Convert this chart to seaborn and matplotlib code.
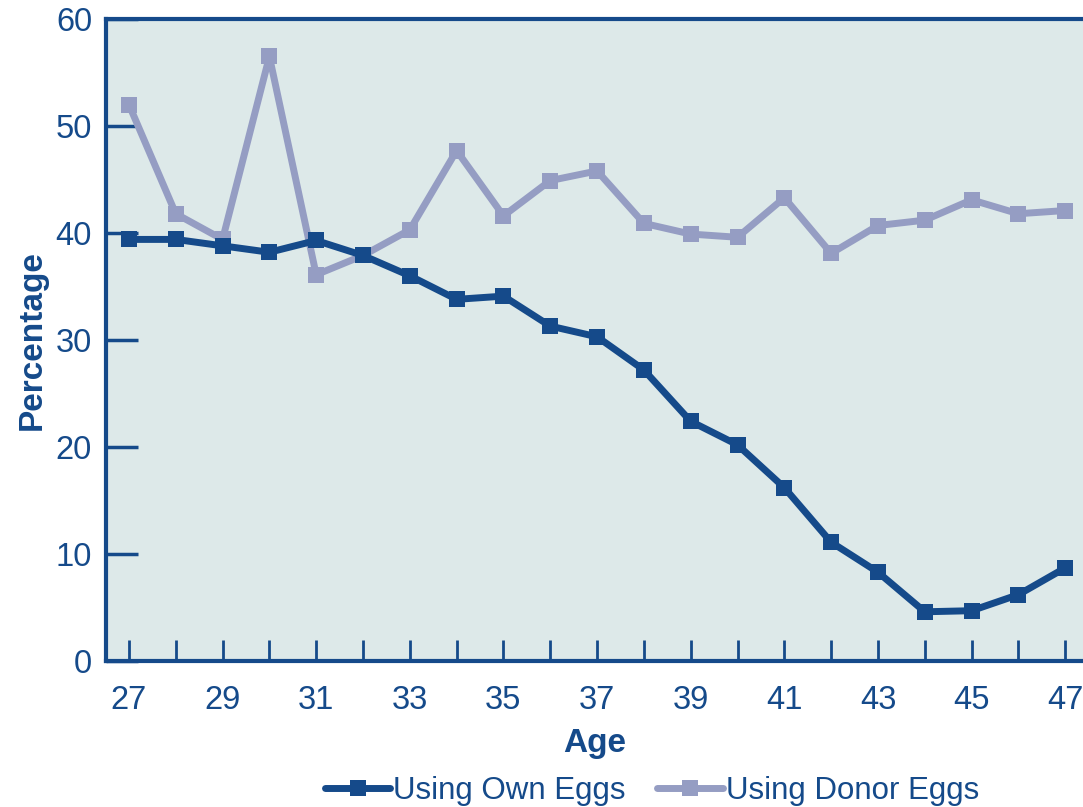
import pandas as pd
import seaborn as sns
import matplotlib
matplotlib.use("Agg")
import matplotlib.pyplot as plt

ages = list(range(27, 48))
own_eggs = [39.4, 39.4, 38.8, 38.2, 39.3, 37.9, 36.0, 33.8, 34.1, 31.3, 30.3,
            27.2, 22.4, 20.2, 16.2, 11.1, 8.3, 4.6, 4.7, 6.2, 8.7]
donor_eggs = [52.0, 41.8, 39.4, 56.5, 36.1, 37.9, 40.3, 47.7, 41.6, 44.9, 45.8,
              40.9, 39.9, 39.6, 43.3, 38.1, 40.7, 41.2, 43.1, 41.8, 42.1]
series_names = ["Using Own Eggs", "Using Donor Eggs"]
y_ticks = [0, 10, 20, 30, 40, 50, 60]
x_label_ticks = list(range(27, 48, 2))

dark_blue = "#154a8a"
light_blue = "#959dc3"
bg = "#dde9e9"

df = pd.DataFrame({
    "Age": ages * 2,
    "Percentage": own_eggs + donor_eggs,
    "Series": [series_names[0]] * len(ages) + [series_names[1]] * len(ages),
})

sns.set_style("white")
plt.rcParams["font.family"] = ["Liberation Sans", "DejaVu Sans"]

fig = plt.figure(figsize=(10.83, 8.07), dpi=100)
ax = fig.add_axes([106 / 1083, 146 / 807, 977 / 1083, 642 / 807])
ax.set_facecolor(bg)

# donor series first so the own-eggs line sits on top
palette = {series_names[0]: dark_blue, series_names[1]: light_blue}
sns.lineplot(data=df, x="Age", y="Percentage", hue="Series", style="Series",
             markers={n: "s" for n in series_names}, dashes=False, palette=palette,
             hue_order=series_names[::-1], style_order=series_names[::-1],
             linewidth=5, markersize=11, markeredgewidth=0, ax=ax, legend=False)

ax.set_xlim(26.51, 47.38)
ax.set_ylim(0, 60)
ax.set_xticks(ages)
ax.set_xticklabels([str(a) if a in x_label_ticks else "" for a in ages])
ax.set_yticks(y_ticks)

for side in ["left", "top", "bottom"]:
    ax.spines[side].set_color(dark_blue)
    ax.spines[side].set_linewidth(3)
ax.spines["right"].set_visible(False)

ax.tick_params(axis="x", direction="in", length=15, width=2, color=dark_blue,
               labelcolor=dark_blue, labelsize=23.5, pad=17, bottom=True)
ax.tick_params(axis="y", direction="in", length=23, width=2.5, color=dark_blue,
               labelcolor=dark_blue, labelsize=23.5, pad=10, left=True)

ax.set_xlabel("Age", fontsize=24, fontweight="bold", color=dark_blue, labelpad=9)
ax.set_ylabel("Percentage", fontsize=24, fontweight="bold", color=dark_blue, labelpad=6)

handles = [plt.Line2D([], [], color=dark_blue, lw=5, marker="s", ms=11, mew=0),
           plt.Line2D([], [], color=light_blue, lw=5, marker="s", ms=11, mew=0)]
leg = fig.legend(handles, series_names, loc="center", bbox_to_anchor=(0.602, 0.02),
                 ncol=2, frameon=False, fontsize=22.5, handlelength=2.1,
                 handletextpad=0.1, columnspacing=1.0)
for t in leg.get_texts():
    t.set_color(dark_blue)

fig.savefig("out.png", dpi=100)
